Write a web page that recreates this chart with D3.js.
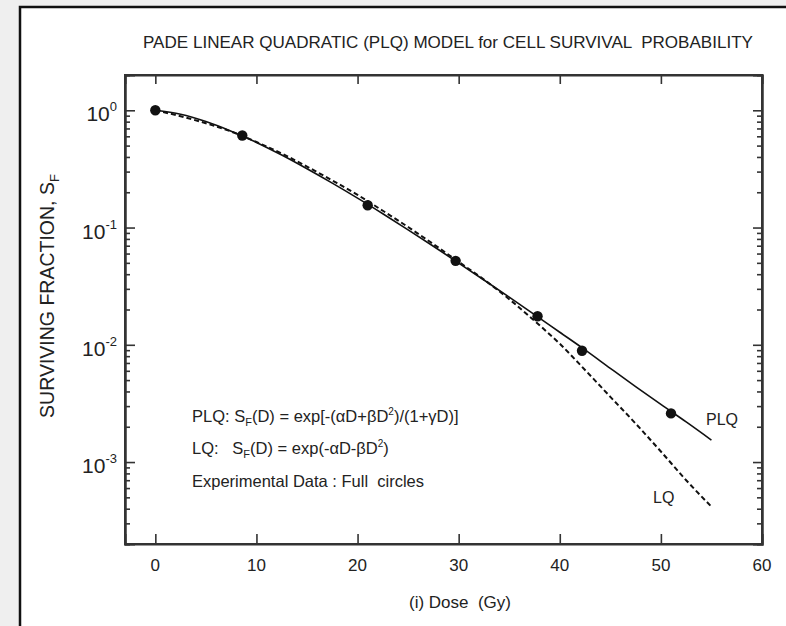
<!DOCTYPE html>
<html>
<head>
<meta charset="utf-8">
<script src="https://cdn.jsdelivr.net/npm/d3@7"></script>
<style>
  html, body { margin: 0; padding: 0; background: #efefef; }
  svg { display: block; }
  text { font-family: "Liberation Sans", Arial, sans-serif; fill: #222; }
</style>
</head>
<body>
<script>
// Dose grid (Gy) used for the model curves
const doseGrid = [0, 2.5, 5, 7.5, 10, 12.5, 15, 17.5, 20, 22.5, 25, 27.5, 30, 32.5,
                  35, 37.5, 40, 42.5, 45, 47.5, 50, 52.5, 55];
// Pade linear-quadratic curve (solid)
const plqValues = [1.0, 0.925, 0.802, 0.664, 0.532, 0.415, 0.317, 0.239, 0.178, 0.131,
                   0.0955, 0.0692, 0.0498, 0.0357, 0.0255, 0.0181, 0.0128, 0.00905,
                   0.00630, 0.00440, 0.00310, 0.0022, 0.00154];
// Linear-quadratic curve (dashed)
const lqValues = [1.0, 0.890, 0.775, 0.659, 0.537, 0.428, 0.331, 0.252, 0.190, 0.139,
                  0.101, 0.0722, 0.0510, 0.0360, 0.0245, 0.0160, 0.0102, 0.0061,
                  0.0036, 0.00213, 0.00123, 0.00070, 0.000416];
// Experimental data (full circles)
const expDose = [0, 8.6, 21, 29.7, 37.8, 42.2, 51];
const expSF = [1.0, 0.61, 0.155, 0.052, 0.0175, 0.0089, 0.0026];
// Axis ticks
const xTicks = [0, 10, 20, 30, 40, 50, 60];
const yDecades = [0, -1, -2, -3];

const W = 786, H = 626;
const svg = d3.select("body").append("svg").attr("width", W).attr("height", H);

// page frame
svg.append("rect").attr("x", 20).attr("y", 7).attr("width", W).attr("height", H)
  .attr("fill", "#fff").attr("stroke", "#111").attr("stroke-width", 2.5);

const L = 125, R = 762, T = 75, B = 544;
const x = d3.scaleLinear().domain([-3, 60]).range([L, R]);
const y = d3.scaleLog().domain([2e-4, 2]).range([B, T]);

// minor tick values for the log axis
const minor = [];
for (let e = -4; e <= 0; e++) {
  for (let m = 2; m <= 9; m++) {
    const v = m * Math.pow(10, e);
    if (v > 2e-4 && v < 2) minor.push(v);
  }
}
const major = yDecades.map(e => Math.pow(10, e));

const axisColor = "#333";
const g = svg.append("g");

// left / right axes with inward ticks
const yLeft = g.append("g").attr("transform", `translate(${L},0)`);
yLeft.call(d3.axisRight(y).tickValues(major).tickSize(10).tickFormat(""));
yLeft.append("g").call(d3.axisRight(y).tickValues(minor).tickSize(5).tickFormat(""));
const yRight = g.append("g").attr("transform", `translate(${R},0)`);
yRight.call(d3.axisLeft(y).tickValues(major).tickSize(9).tickFormat(""));
yRight.append("g").call(d3.axisLeft(y).tickValues(minor).tickSize(5).tickFormat(""));

// bottom / top axes with inward ticks
const xBottom = g.append("g").attr("transform", `translate(0,${B})`);
xBottom.call(d3.axisTop(x).tickValues(xTicks).tickSize(10).tickFormat(""));
const xTop = g.append("g").attr("transform", `translate(0,${T})`);
xTop.call(d3.axisBottom(x).tickValues(xTicks).tickSize(9).tickFormat(""));

g.selectAll(".domain").attr("stroke", axisColor).attr("stroke-width", 2);
g.selectAll(".tick line").attr("stroke", axisColor).attr("stroke-width", 1.6);
// closed frame of the plot
g.append("rect").attr("x", L).attr("y", T).attr("width", R - L).attr("height", B - T)
  .attr("fill", "none").attr("stroke", axisColor).attr("stroke-width", 2);

// x tick labels
svg.append("g").selectAll("text").data(xTicks).join("text")
  .attr("x", d => x(d)).attr("y", 571).attr("text-anchor", "middle")
  .attr("font-size", 17).text(d => d);

// y tick labels: 10 with superscript exponent
const yl = svg.append("g").selectAll("text").data(yDecades).join("text")
  .attr("x", 117).attr("y", d => y(Math.pow(10, d)) + 11)
  .attr("text-anchor", "end").attr("font-size", 21);
yl.append("tspan").text("10");
yl.append("tspan").attr("dy", -10).attr("font-size", 13).text(d => d);

// titles
svg.append("text").attr("x", 448).attr("y", 48).attr("text-anchor", "middle")
  .attr("font-size", 17).attr("textLength", 610).attr("lengthAdjust", "spacingAndGlyphs")
  .text("PADE LINEAR QUADRATIC (PLQ) MODEL for CELL SURVIVAL  PROBABILITY")
  .style("white-space", "pre");

svg.append("text").attr("x", 460).attr("y", 608).attr("text-anchor", "middle")
  .attr("font-size", 17).style("white-space", "pre").text("(i) Dose  (Gy)");

const yt = svg.append("text")
  .attr("transform", "translate(54,296) rotate(-90)")
  .attr("text-anchor", "middle").attr("font-size", 19.5);
yt.append("tspan").text("SURVIVING FRACTION, S");
yt.append("tspan").attr("font-size", 13).attr("dy", 5).text("F");

// model curves
const line = d3.line().x(d => x(d[0])).y(d => y(d[1])).curve(d3.curveMonotoneX);
svg.append("path").datum(doseGrid.map((d, i) => [d, plqValues[i]]))
  .attr("d", line).attr("fill", "none").attr("stroke", "#111").attr("stroke-width", 1.6);
svg.append("path").datum(doseGrid.map((d, i) => [d, lqValues[i]]))
  .attr("d", line).attr("fill", "none").attr("stroke", "#111").attr("stroke-width", 2)
  .attr("stroke-dasharray", "5,3");

// experimental points
svg.append("g").selectAll("circle").data(expDose).join("circle")
  .attr("cx", d => x(d)).attr("cy", (d, i) => y(expSF[i])).attr("r", 5.2)
  .attr("fill", "#111");

// curve labels
svg.append("text").attr("x", 706).attr("y", 425).attr("font-size", 16).text("PLQ");
svg.append("text").attr("x", 653).attr("y", 503).attr("font-size", 16).text("LQ");

// formula annotations
const fs = 16.5, sub = 11, sup = 10;
const t1 = svg.append("text").attr("x", 192).attr("y", 422).attr("font-size", fs).style("white-space", "pre");
t1.append("tspan").text("PLQ: S");
t1.append("tspan").attr("font-size", sub).attr("dy", 4).text("F");
t1.append("tspan").attr("dy", -4).text("(D) = exp[-(\u03B1D+\u03B2D");
t1.append("tspan").attr("font-size", sup).attr("dy", -7).text("2");
t1.append("tspan").attr("dy", 7).text(")/(1+\u03B3D)]");

const t2 = svg.append("text").attr("x", 192).attr("y", 454).attr("font-size", fs).style("white-space", "pre");
t2.append("tspan").text("LQ:   S");
t2.append("tspan").attr("font-size", sub).attr("dy", 4).text("F");
t2.append("tspan").attr("dy", -4).text("(D) = exp(-\u03B1D-\u03B2D");
t2.append("tspan").attr("font-size", sup).attr("dy", -7).text("2");
t2.append("tspan").attr("dy", 7).text(")");

svg.append("text").attr("x", 192).attr("y", 487).attr("font-size", fs)
  .style("white-space", "pre").text("Experimental Data : Full  circles");
</script>
</body>
</html>
